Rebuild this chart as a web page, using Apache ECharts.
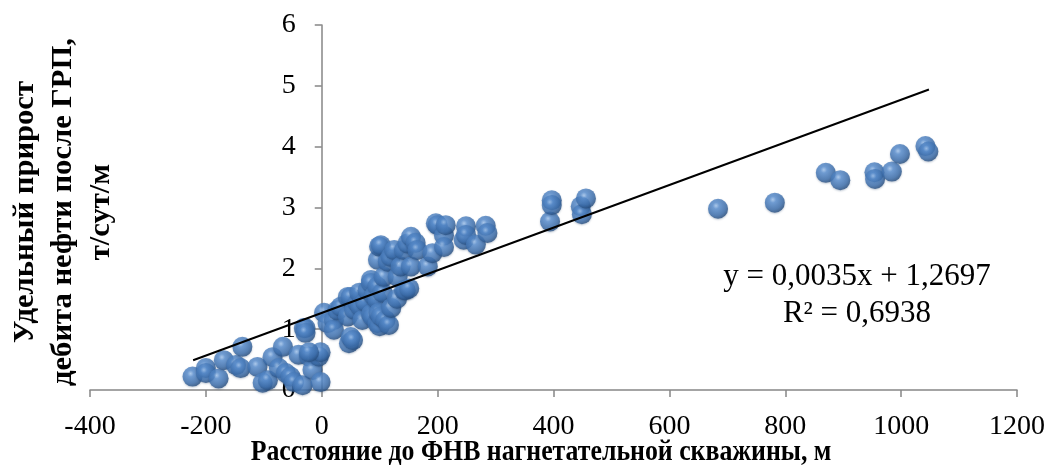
<!DOCTYPE html>
<html>
<head>
<meta charset="utf-8">
<script src="https://cdn.jsdelivr.net/npm/echarts@6/dist/echarts.min.js"></script>
<style>
  html, body { margin: 0; padding: 0; background: #fff; }
  #chart { width: 1049px; height: 476px; }
</style>
</head>
<body>
<div id="chart"></div>
<script>
// distance to the injection well front, m
const distX = [
  -223, -200, -200, -178, -169, -148, -137, -140, -111, -102, -93, -85, -74, -67, -62, -54, -40, -48,
  -33, -22, -16, -5, -2, -31, -28, -28, -2, -22,
  4, 10, 21, 21, 27, 33, 45, 45, 47, 50, 50, 54, 56, 62, 65, 67, 70, 75, 79, 85, 85, 85, 88,
  90, 96, 96, 96, 97, 98, 99, 100, 102, 102, 105, 107, 110, 114, 116, 119, 120, 125, 130, 131,
  136, 142, 142, 145, 148, 151, 154, 154, 162, 165, 183, 191, 197, 200, 211, 211, 214, 245, 249,
  249, 266, 283, 286,
  394, 397, 397, 447, 449, 456,
  684, 782, 870, 895, 954, 955, 984, 998, 1042, 1047
];
// specific oil rate gain after fracturing, t/day/m
const gainY = [
  0.22, 0.36, 0.28, 0.19, 0.49, 0.41, 0.71, 0.36, 0.38, 0.12, 0.16, 0.54, 0.36, 0.71, 0.28, 0.22, 0.58, 0.13,
  0.08, 0.55, 0.33, 0.55, 0.13, 1.02, 1.02, 0.94, 0.62, 0.62,
  1.27, 1.10, 1.15, 0.99, 1.31, 1.37, 1.21, 1.53, 0.77, 0.87, 1.53, 0.82, 1.32, 1.43, 1.60, 1.37, 1.15, 1.45, 1.64, 1.81, 1.25, 1.76, 1.20,
  1.55, 1.70, 1.48, 1.10, 2.14, 1.27, 2.36, 1.05, 1.21, 2.38, 1.60, 1.86, 1.15, 2.11, 1.07, 2.19, 1.35, 2.30, 1.50, 1.86,
  2.03, 1.64, 2.30, 1.64, 2.41, 1.67, 2.52, 2.03, 2.42, 2.30, 2.03, 2.25, 2.74, 2.71, 2.54, 2.35, 2.71, 2.47, 2.69,
  2.55, 2.39, 2.70, 2.58,
  2.77, 3.12, 3.04, 3.02, 2.89, 3.15,
  2.98, 3.08, 3.57, 3.45, 3.58, 3.47, 3.59, 3.88, 4.01, 3.92
];
// linear trend endpoints
const trendX = [-222, 1048];
const trendY = [0.49, 4.94];

const xTicks = { min: -400, max: 1200, interval: 200 };
const yTicks = { min: 0, max: 6, interval: 1 };

const serif = '"Liberation Serif", "Times New Roman", serif';
const axisGray = '#868686';

const points = distX.map((x, i) => [x, gainY[i]]);
const trend = trendX.map((x, i) => [x, trendY[i]]);

const gridLeft = 90, gridRight = 32;
const plotW = 1049 - gridLeft - gridRight;
// y axis sits on x = 0
const yAxisShift = plotW * (0 - xTicks.min) / (xTicks.max - xTicks.min);

const ball = new echarts.graphic.RadialGradient(0.4, 0.35, 0.65, [
  { offset: 0, color: '#a6c8f0' },
  { offset: 0.25, color: '#5a8fd0' },
  { offset: 0.75, color: '#3b6dab' },
  { offset: 1, color: '#284f80' }
]);

const chart = echarts.init(document.getElementById('chart'));
chart.setOption({
  animation: false,
  backgroundColor: '#fff',
  grid: { left: gridLeft, right: gridRight, top: 25, bottom: 86 },
  xAxis: {
    type: 'value',
    ...xTicks,
    splitLine: { show: false },
    axisLine: { onZero: false, lineStyle: { color: axisGray, width: 1.5 } },
    axisTick: { show: true, length: 7, lineStyle: { color: axisGray, width: 1.5 } },
    axisLabel: {
      color: '#000', fontFamily: serif, fontSize: 28, margin: 23,
      formatter: (v) => String(v)
    }
  },
  yAxis: {
    type: 'value',
    ...yTicks,
    offset: -yAxisShift,
    splitLine: { show: false },
    axisLine: { onZero: false, lineStyle: { color: axisGray, width: 1.5 } },
    axisTick: { show: true, length: 7, lineStyle: { color: axisGray, width: 1.5 } },
    axisLabel: { color: '#000', fontFamily: serif, fontSize: 28, margin: 26 }
  },
  graphic: [
    {
      type: 'text',
      x: 541,
      y: 452,
      scaleX: 0.86,
      style: {
        text: 'Расстояние до ФНВ нагнетательной скважины, м',
        font: 'bold 30px ' + serif,
        fill: '#000',
        align: 'center',
        verticalAlign: 'middle'
      }
    },
    {
      type: 'text',
      x: 63,
      y: 212,
      rotation: Math.PI / 2,
      scaleX: 1.02,
      style: {
        text: 'Удельный прирост\nдебита нефти после ГРП,\nт/сут/м',
        font: 'bold 30px ' + serif,
        fill: '#000',
        align: 'center',
        verticalAlign: 'middle',
        lineHeight: 38
      }
    },
    {
      type: 'text',
      x: 857,
      y: 295,
      z: 10,
      style: {
        text: 'y = 0,0035x + 1,2697\nR² = 0,6938',
        font: '31px ' + serif,
        fill: '#000',
        align: 'center',
        verticalAlign: 'middle',
        lineHeight: 37
      }
    }
  ],
  series: [
    {
      type: 'scatter',
      data: points,
      symbol: 'circle',
      symbolSize: 20,
      itemStyle: {
        color: ball,
        shadowBlur: 2,
        shadowColor: 'rgba(30,60,100,0.35)',
        shadowOffsetY: 1
      },
      z: 2
    },
    {
      type: 'line',
      data: trend,
      showSymbol: false,
      symbol: 'none',
      lineStyle: { color: '#000', width: 2 },
      z: 5
    }
  ]
});
</script>
</body>
</html>
